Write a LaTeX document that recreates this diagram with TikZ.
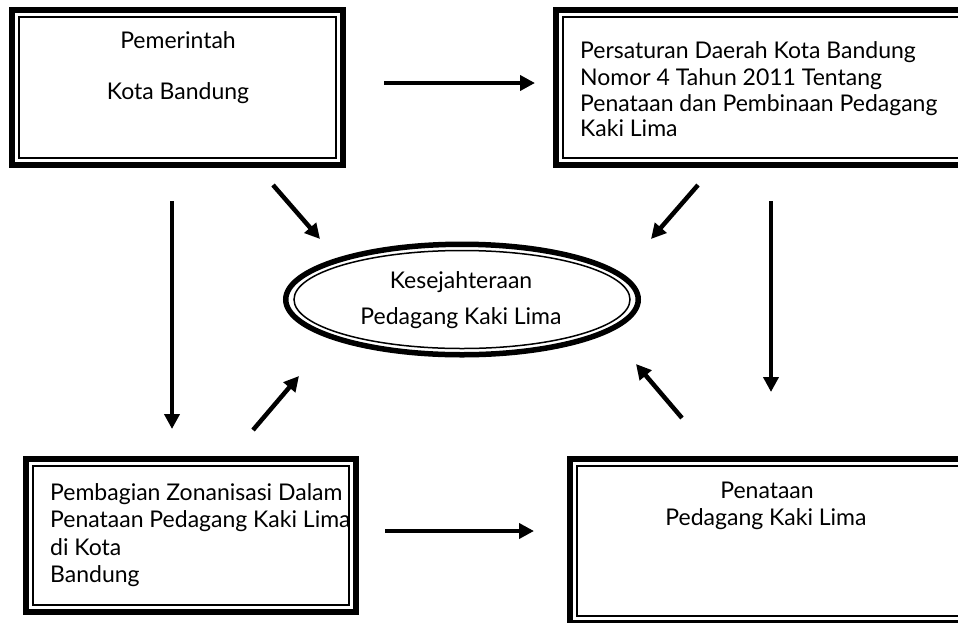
\documentclass[tikz,border=0pt]{standalone}
\usepackage{fontspec}
\setmainfont{Lato}
\usetikzlibrary{arrows.meta,shapes.geometric}
\begin{document}
\begin{tikzpicture}[x=1pt,y=-1pt,
  thickframe/.style={draw, line width=6pt, inner sep=0pt, rectangle},
  thinframe/.style={draw, line width=1.5pt, inner sep=0pt, rectangle},
  thickoval/.style={draw, line width=5.5pt, inner sep=0pt, ellipse},
  thinoval/.style={draw, line width=1.5pt, inner sep=0pt, ellipse},
  lbl/.style={font=\fontsize{23}{27}\selectfont, inner sep=0pt, text=black},
  arr/.style={line width=4.5pt, -{Triangle[length=15pt,width=15pt]}}
]
\clip (0,0) rectangle (958,622);
\fill[white] (0,0) rectangle (958,622);

% Box 1: Pemerintah Kota Bandung
\node[thickframe, minimum width=331pt, minimum height=155pt] (b1) at (177.5,87.5) {};
\node[thinframe, minimum width=317pt, minimum height=141pt] (b1i) at (b1.center) {};
\node[lbl, anchor=base] (t1a) at (178,48) {Pemerintah};
\node[lbl, anchor=base] (t1b) at (178,99) {Kota Bandung};

% Box 2: Perda
\node[thickframe, minimum width=416pt, minimum height=155pt] (b2) at (764,87.5) {};
\node[thinframe, minimum width=402pt, minimum height=141pt] (b2i) at (b2.center) {};
\node[lbl, anchor=base west] (t2a) at (580,58.3) {Persaturan Daerah Kota Bandung};
\node[lbl, anchor=base west] (t2b) at (580,85) {Nomor 4 Tahun 2011 Tentang};
\node[lbl, anchor=base west] (t2c) at (580,111.7) {Penataan dan Pembinaan Pedagang};
\node[lbl, anchor=base west] (t2d) at (580,136.7) {Kaki Lima};

% Box 3: Pembagian Zonanisasi
\node[thickframe, minimum width=330pt, minimum height=153pt] (b3) at (191,535.5) {};
\node[thinframe, minimum width=316pt, minimum height=139pt] (b3i) at (b3.center) {};
\node[lbl, anchor=base west] (t3a) at (50,500) {Pembagian Zonanisasi Dalam};
\node[lbl, anchor=base west] (t3b) at (50,527) {Penataan Pedagang Kaki Lima};
\node[lbl, anchor=base west] (t3c) at (50,555) {di Kota};
\node[lbl, anchor=base west] (t3d) at (50,582) {Bandung};

% Box 4: Penataan Pedagang Kaki Lima
\node[thickframe, minimum width=402pt, minimum height=164pt] (b4) at (771,541) {};
\node[thinframe, minimum width=388pt, minimum height=150pt] (b4i) at (b4.center) {};
\node[lbl, anchor=base] (t4a) at (767,498) {Penataan};
\node[lbl, anchor=base] (t4b) at (766,525) {Pedagang Kaki Lima};

% Ellipse
\node[thickoval, minimum width=352.5pt, minimum height=110.5pt] (el) at (462,299.5) {};
\node[thinoval, minimum width=336pt, minimum height=98pt] (eli) at (el.center) {};
\node[lbl, anchor=base] (tea) at (461,288) {Kesejahteraan};
\node[lbl, anchor=base] (teb) at (461,324) {Pedagang Kaki Lima};

% arrow end points
\coordinate (h1s) at (384,83);   \coordinate (h1e) at (535,83);
\coordinate (h2s) at (385,531);  \coordinate (h2e) at (534,531);
\coordinate (v1s) at (172,201);  \coordinate (v1e) at (172,429);
\coordinate (v2s) at (771,201);  \coordinate (v2e) at (771,392);
\coordinate (d1s) at (273,185);  \coordinate (d1e) at (320,239);
\coordinate (d2s) at (253,430);  \coordinate (d2e) at (299,376);
\coordinate (d3s) at (698,185);  \coordinate (d3e) at (651,239);
\coordinate (d4s) at (682,418);  \coordinate (d4e) at (636,364);

\draw[arr] (h1s) -- (h1e);
\draw[arr] (h2s) -- (h2e);
\draw[arr] (v1s) -- (v1e);
\draw[arr] (v2s) -- (v2e);
\draw[arr] (d1s) -- (d1e);
\draw[arr] (d2s) -- (d2e);
\draw[arr] (d3s) -- (d3e);
\draw[arr] (d4s) -- (d4e);
\end{tikzpicture}
\end{document}
